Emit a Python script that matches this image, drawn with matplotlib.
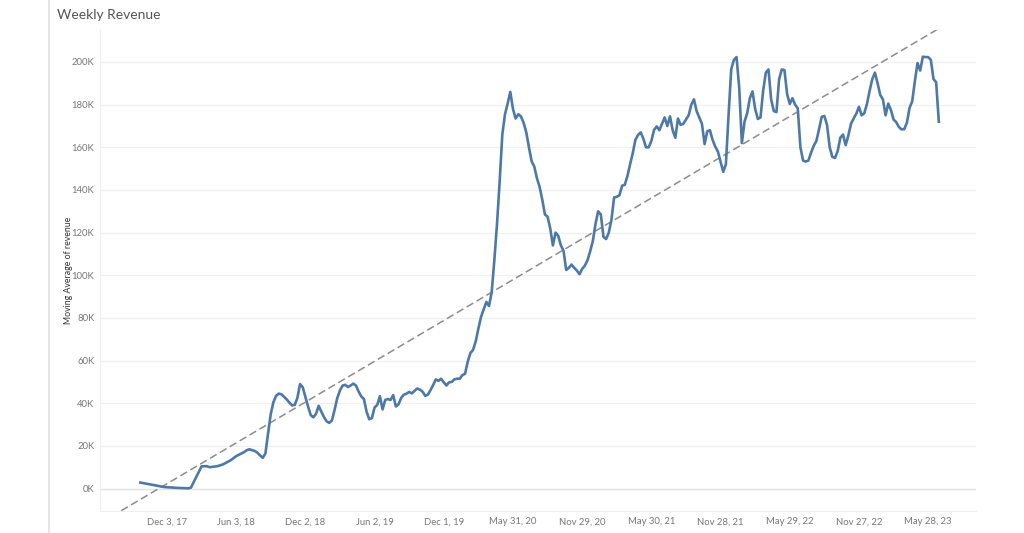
import matplotlib.pyplot as plt
import matplotlib.ticker as mticker
import numpy as np
import pandas as pd

plt.rcParams["font.family"] = ["Lato", "DejaVu Sans"]

# Weeks counted from Sunday Dec 3, 2017 and moving average revenue in K
start_date = pd.Timestamp("2017-12-03")

early_weeks = [-10, -1, 4, 8, 9, 13, 15, 16, 19, 21, 24, 26, 29, 30, 31, 32, 33, 34, 35]
early_k = [2.8, 0.7, 0.3, 0.1, 0.4, 10.4, 10.5, 10.0, 10.5, 11.3, 13.3, 15.2, 17.1, 18.0,
           18.4, 18.0, 17.6, 16.8, 15.5]

# one value per week from week 36 onward
weekly_first = 36
weekly_k = [
    14.4, 16.5, 26.0, 35.0, 40.5, 43.5, 44.5, 44.2, 43.0, 41.8,      # 36-45
    40.3, 39.0, 39.2, 42.5, 49.0, 47.5, 43.0, 38.5, 34.5, 33.4,      # 46-55
    35.0, 38.8, 36.0, 33.5, 31.5, 30.8, 32.0, 37.0, 42.5, 46.0,      # 56-65
    48.3, 48.6, 47.6, 48.3, 49.2, 48.3, 45.5, 43.2, 42.0, 36.0,      # 66-75
    32.5, 33.0, 38.0, 39.2, 43.3, 37.1, 41.5, 42.0, 41.5, 43.8,      # 76-85
    38.5, 39.5, 42.5, 44.0, 44.5, 45.3, 44.6, 45.8, 46.9, 46.4,      # 86-95
    45.5, 43.5, 44.0, 46.1, 48.5, 51.2, 50.5, 51.5, 49.8, 48.3,      # 96-105
    49.8, 50.0, 51.2, 51.5, 51.5, 53.2, 53.8, 59.5, 63.5, 65.0,      # 106-115
    69.0, 75.0, 80.5, 84.0, 87.5, 85.6, 92.0, 107, 124, 144,         # 116-125
    166, 175.5, 180.5, 186, 178, 173.5, 175.5, 174.5, 171.5, 167,    # 126-135
    160, 153.5, 151, 145.5, 141.5, 135.5, 128.5, 127.5, 122, 114,    # 136-145
    120, 118.5, 114, 111.5, 102.5, 103.5, 105, 103.5, 102.2, 100.5,  # 146-155
    103, 104.5, 107, 111.2, 116, 124, 130, 128.5, 118, 117,          # 156-165
    120, 126, 136.5, 136.8, 137.5, 142, 142.4, 146.5, 152, 157.2,    # 166-175
    163.5, 165.8, 167, 164, 160, 160, 163, 168.1, 169.8, 168,        # 176-185
    171, 174, 170, 174.5, 168, 164.5, 173.5, 170.5, 171, 173,        # 186-195
    175, 180, 182.5, 177, 174, 171, 161.5, 167.5, 168, 163.5,        # 196-205
    160.3, 158, 153.3, 148.5, 152, 175, 196.5, 201, 202.3, 188,      # 206-215
    162, 172, 176, 183, 186.2, 178, 173.3, 174, 186.5, 195,          # 216-225
    196.5, 182.5, 177, 176.5, 192, 196.5, 196.2, 185, 180.3, 183,    # 226-235
    180, 178.3, 160, 153.8, 153.3, 153.8, 157.5, 160.7, 163, 168.5,  # 236-245
    174.3, 174.7, 170.5, 160, 155.5, 155, 158.2, 164.5, 166, 161,    # 246-255
    165.5, 171, 173.5, 175.8, 179, 175, 176, 180.3, 186.5, 192,      # 256-265
    195, 190, 184.5, 182.5, 175, 180.5, 177.5, 173, 171.8, 169.5,    # 266-275
    168.4, 168.5, 171.5, 178.5, 181.5, 191, 199.5, 196, 202.5, 202.3,  # 276-285
    202.3, 201, 192, 190.5, 172,                                     # 286-290
]

weeks = np.concatenate([early_weeks, weekly_first + np.arange(len(weekly_k))])
revenue_k = np.concatenate([early_k, weekly_k])
dates = start_date + pd.to_timedelta(weeks * 7, unit="D")

tick_dates = pd.date_range("2017-12-03", periods=12, freq="182D")

fig = plt.figure(figsize=(10.24, 5.33), dpi=100)
ax = fig.add_axes([0.0977, 0.0422, 0.8555, 0.9015])

# moving average line
ax.plot(dates, revenue_k, color="#4e79a7", linewidth=1.9, solid_joinstyle="round", zorder=3)

# linear trend line across the whole pane
coef = np.polyfit(weeks, revenue_k, 1)
trend_weeks = np.array([-40, 320])
trend_dates = start_date + pd.to_timedelta(trend_weeks * 7, unit="D")
ax.plot(trend_dates, np.polyval(coef, trend_weeks), color="#8c8c8c",
        linewidth=1.1, linestyle=(0, (5, 2.5)), zorder=2)

ax.set_xlim(pd.Timestamp("2017-06-10"), pd.Timestamp("2023-10-01"))
ax.set_ylim(-10.3, 215)

ax.set_yticks(np.arange(0, 201, 20))
ax.yaxis.set_major_formatter(mticker.FuncFormatter(lambda v, p: f"{v:.0f}K"))
ax.set_xticks(tick_dates)
ax.set_xticklabels([f"{d:%b} {d.day}, {d:%y}" for d in tick_dates])

ax.tick_params(axis="both", length=0, labelsize=6.8, colors="#777777")
ax.tick_params(axis="y", pad=4)
ax.tick_params(axis="x", pad=5)
ax.grid(axis="y", color="#f0f0f0", linewidth=0.9)
ax.axhline(0, color="#e4e4e4", linewidth=1.0, zorder=1)
ax.set_axisbelow(True)

for side in ["top", "right"]:
    ax.spines[side].set_visible(False)
for side in ["left", "bottom"]:
    ax.spines[side].set_color("#eeeeee")

ax.set_ylabel("Moving Average of revenue", fontsize=6.3, color="#333333", labelpad=-1)

fig.text(0.0557, 0.971, "Weekly Revenue", fontsize=10,
         color="#555555", va="center", ha="left")
fig.add_artist(plt.Line2D([0.0479, 0.0479], [0, 1], color="#e0e0e0", linewidth=1.2))

fig.savefig("out.png", dpi=100)
